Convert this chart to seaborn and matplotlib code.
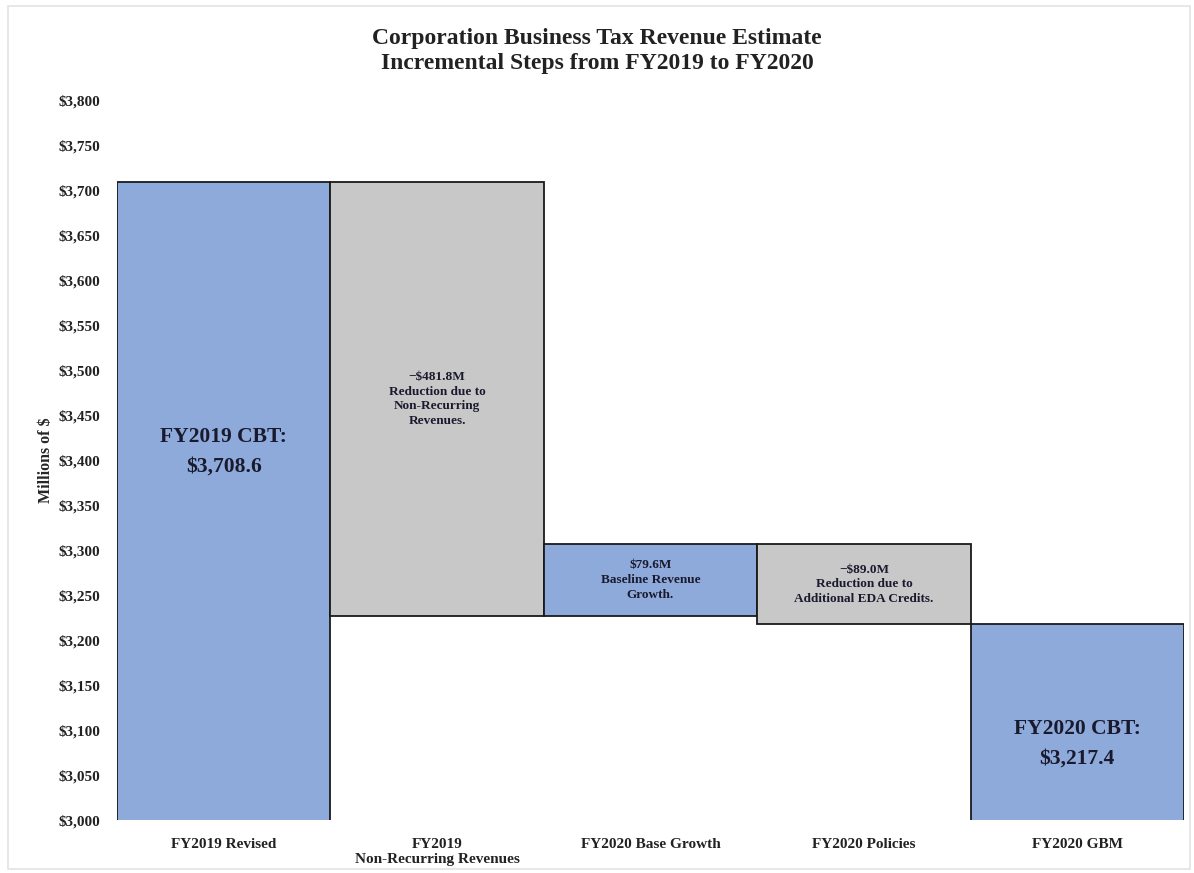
import matplotlib
matplotlib.use("Agg")
import matplotlib.pyplot as plt
import matplotlib.patches as mpatches
from matplotlib.ticker import FuncFormatter, MultipleLocator
import seaborn as sns
import pandas as pd

# Waterfall steps (millions of $)
categories = ["FY2019 Revised", "FY2019\nNon-Recurring Revenues", "FY2020 Base Growth",
              "FY2020 Policies", "FY2020 GBM"]
start_total = 3708.6
changes = [-481.8, 79.6, -89.0]
end_total = 3217.4
bar_labels = ["FY2019 CBT:\n$3,708.6",
              "\u2212$481.8M\nReduction due to\nNon-Recurring\nRevenues.",
              "$79.6M\nBaseline Revenue\nGrowth.",
              "\u2212$89.0M\nReduction due to\nAdditional EDA Credits.",
              "FY2020 CBT:\n$3,217.4"]

BLUE = "#8eaadb"
GRAY = "#c8c8c8"

# Build floating bar bottoms / heights from the running total
bottoms, heights, colors = [0.0], [start_total], [BLUE]
running = start_total
for c in changes:
    new = running + c
    bottoms.append(min(running, new))
    heights.append(abs(c))
    colors.append(BLUE if c > 0 else GRAY)
    running = new
bottoms.append(0.0)
heights.append(end_total)
colors.append(BLUE)

df = pd.DataFrame({"step": categories, "height": heights})

sns.set_style("white")
plt.rcParams["font.family"] = ["Liberation Serif", "DejaVu Serif"]

fig = plt.figure(figsize=(11.94, 8.73), dpi=100)
ax = fig.add_axes([0.098, 0.0607, 0.8936, 0.8248])

sns.barplot(data=df, x="step", y="height", bottom=bottoms, color=BLUE, width=1.0,
            edgecolor="#1a1a1a", linewidth=1.3, ax=ax, saturation=1)
for patch, col in zip(ax.patches, colors):
    patch.set_facecolor(col)

ax.set_ylim(3000, 3800)
ax.set_xlim(-0.5, 4.5)
ax.yaxis.set_major_locator(MultipleLocator(50))
ax.yaxis.set_major_formatter(FuncFormatter(lambda v, p: f"${v:,.0f}"))
for s in ax.spines.values():
    s.set_visible(False)
ax.tick_params(axis="both", length=0, labelsize=11)
for t in ax.get_yticklabels() + ax.get_xticklabels():
    t.set_fontweight("bold")
    t.set_color("#222222")
ax.tick_params(axis="x", pad=13)
ax.tick_params(axis="y", pad=12)
ax.set_xlabel("")
ax.set_ylabel("Millions of $", fontsize=11.5, fontweight="bold", labelpad=3)

# Labels placed within the visible part of each bar
ymin = ax.get_ylim()[0]
offsets = [55, 0, 0, 0, -24]
for i, (b, h, lab) in enumerate(zip(bottoms, heights, bar_labels)):
    lo = max(b, ymin)
    hi = b + h
    mid = (lo + hi) / 2 + offsets[i]
    big = i in (0, 4)
    ax.text(i, mid, lab, ha="center", va="center",
            fontsize=15.5 if big else 9.5, fontweight="bold",
            color="#1a1a2e", linespacing=1.65 if big else 1.3)

fig.suptitle("Corporation Business Tax Revenue Estimate\nIncremental Steps from FY2019 to FY2020",
             y=0.968, fontsize=17, fontweight="bold", color="#222222", linespacing=1.25)

fig.patches.append(mpatches.Rectangle((0.007, 0.005), 0.99, 0.988, transform=fig.transFigure,
                                      fill=False, edgecolor="#e3e3e3", linewidth=1.2))

fig.savefig("out.png", dpi=100, facecolor="white")
